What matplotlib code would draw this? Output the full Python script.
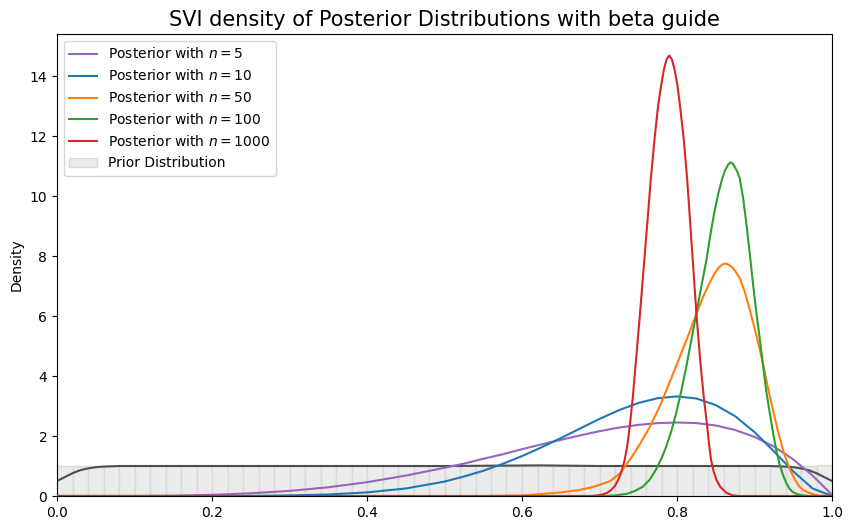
import numpy as np
import matplotlib
matplotlib.use("Agg")
import matplotlib.pyplot as plt

# DATA
labels = ["Posterior with $n=5$", "Posterior with $n=10$", "Posterior with $n=50$",
          "Posterior with $n=100$", "Posterior with $n=1000$"]
colors = ["tab:purple", "tab:blue", "tab:orange", "tab:green", "tab:red"]

x_n5 = [0.0, 0.05, 0.1, 0.15, 0.2, 0.25, 0.3, 0.35, 0.4, 0.45, 0.5, 0.525, 0.55, 0.575,
        0.6, 0.625, 0.65, 0.675, 0.7, 0.725, 0.75, 0.775, 0.8, 0.825, 0.85, 0.875, 0.9,
        0.925, 0.95, 0.975, 1.0]
y_n5 = [0.0, 0.0, 0.0, 0.01, 0.04, 0.09, 0.17, 0.29, 0.46, 0.68, 0.94, 1.08, 1.24, 1.39,
        1.56, 1.72, 1.87, 2.02, 2.16, 2.28, 2.37, 2.43, 2.45, 2.43, 2.35, 2.2, 1.97,
        1.65, 1.22, 0.68, 0.04]

x_n10 = [0.0, 0.2, 0.25, 0.3, 0.35, 0.4, 0.45, 0.5, 0.525, 0.55, 0.575, 0.6, 0.625, 0.65,
         0.675, 0.7, 0.725, 0.75, 0.775, 0.8, 0.825, 0.85, 0.875, 0.9, 0.925, 0.95,
         0.975, 1.0]
y_n10 = [0.0, 0.0, 0.0, 0.02, 0.05, 0.12, 0.25, 0.48, 0.65, 0.84, 1.07, 1.33, 1.62, 1.93,
         2.25, 2.57, 2.86, 3.1, 3.26, 3.32, 3.25, 3.03, 2.66, 2.13, 1.49, 0.82,
         0.25, 0.0]

x_n50 = [0.0, 0.55, 0.6, 0.623, 0.65, 0.674, 0.69, 0.7, 0.714, 0.726, 0.739, 0.752, 0.765,
         0.778, 0.79, 0.803, 0.816, 0.824, 0.833, 0.842, 0.848, 0.854, 0.8585, 0.863,
         0.8675, 0.872, 0.8765, 0.881, 0.8875, 0.894, 0.9005, 0.907, 0.913, 0.919, 0.9255,
         0.932, 0.939, 0.946, 0.952, 0.958, 0.964, 0.971, 0.978, 0.985, 1.0]
y_n50 = [0.0, 0.0, 0.02, 0.06, 0.12, 0.2, 0.29, 0.37, 0.5, 0.75, 1.2, 1.72, 2.31,
         3.0, 3.76, 4.6, 5.45, 6.0, 6.6, 7.1, 7.4, 7.62, 7.72, 7.75,
         7.7, 7.6, 7.45, 7.26, 6.8, 6.2, 5.55, 4.87, 4.15, 3.42, 2.68,
         1.98, 1.35, 0.87, 0.55, 0.31, 0.18, 0.1, 0.04, 0.01, 0.0]

x_n100 = [0.0, 0.70, 0.72, 0.735, 0.745, 0.756, 0.765, 0.773, 0.78, 0.786, 0.7925, 0.799,
          0.8055, 0.812, 0.8185, 0.825, 0.8315, 0.838, 0.843, 0.848, 0.853, 0.858, 0.862,
          0.866, 0.869, 0.872, 0.875, 0.878, 0.881, 0.8855, 0.890, 0.894, 0.898, 0.9025,
          0.907, 0.911, 0.915, 0.9195, 0.924, 0.928, 0.932, 0.9365, 0.941, 0.945, 0.949,
          0.955, 0.96, 0.97, 1.0]
y_n100 = [0.0, 0.0, 0.02, 0.07, 0.16, 0.31, 0.55, 0.89, 1.25, 1.64, 2.15, 2.77,
          3.5, 4.31, 5.2, 6.1, 7.0, 7.87, 8.7, 9.43, 10.05, 10.55, 10.85,
          11.05, 11.12, 11.08, 10.95, 10.8, 10.58, 9.9, 8.98, 8.05, 7.09, 6.1,
          5.2, 4.35, 3.53, 2.8, 2.1, 1.55, 1.1, 0.72, 0.43, 0.25, 0.14,
          0.06, 0.03, 0.0, 0.0]

x_n1000 = [0.0, 0.69, 0.70, 0.705, 0.71, 0.715, 0.72, 0.724, 0.728, 0.7325, 0.736, 0.739,
           0.743, 0.747, 0.752, 0.757, 0.762, 0.766, 0.771, 0.7755, 0.779, 0.783, 0.7865,
           0.79, 0.7935, 0.797, 0.8005, 0.804, 0.8085, 0.813, 0.8165, 0.8205, 0.825, 0.830,
           0.8345, 0.839, 0.8415, 0.844, 0.8475, 0.851, 0.856, 0.864, 0.872, 0.88, 1.0]
y_n1000 = [0.0, 0.0, 0.03, 0.06, 0.11, 0.2, 0.34, 0.53, 0.78, 1.2, 1.7, 2.31,
           3.3, 4.5, 6.0, 7.6, 9.2, 10.5, 11.9, 12.98, 13.6, 14.2, 14.55,
           14.68, 14.55, 14.2, 13.7, 12.98, 11.95, 10.6, 9.3, 7.8, 6.1, 4.5,
           3.3, 2.31, 1.7, 1.2, 0.8, 0.53, 0.3, 0.1, 0.02, 0.0, 0.0]

# prior: 50 bin density histogram + kde line
prior_heights = [1.0] * 50
prior_heights[31] = 1.03
prior_heights[49] = 1.05
x_prior = [0.0, 0.01, 0.02, 0.03, 0.04, 0.05, 0.06, 0.08, 0.1, 0.3, 0.5, 0.62, 0.7, 0.9,
           0.92, 0.94, 0.95, 0.96, 0.97, 0.98, 0.99, 1.0]
y_prior = [0.5, 0.63, 0.76, 0.86, 0.92, 0.96, 0.98, 1.0, 1.0, 1.0, 1.0, 1.02, 1.0, 1.0,
           1.0, 0.98, 0.96, 0.92, 0.86, 0.76, 0.63, 0.5]

posteriors = [(x_n5, y_n5), (x_n10, y_n10), (x_n50, y_n50), (x_n100, y_n100), (x_n1000, y_n1000)]

# PLOT
fig = plt.figure(figsize=(8.53, 5.30), dpi=100)
ax = fig.add_axes([57 / 853, 34 / 530, 775 / 853, 462 / 530])

edges = np.linspace(0, 1, len(prior_heights) + 1)
ax.bar(edges[:-1], prior_heights, width=np.diff(edges), align="edge",
       color="#ebebeb", edgecolor="#d9d9d9", linewidth=1, label="Prior Distribution", zorder=1)
ax.plot(x_prior, y_prior, color="#4d4d4d", linewidth=1.5, zorder=2)

for (xs, ys), lab, c in zip(posteriors, labels, colors):
    ax.plot(xs, ys, color=c, label=lab, linewidth=1.5, zorder=3)

ax.set_xlim(0, 1)
ax.set_ylim(0, 15.4)
ax.set_ylabel("Density")
ax.set_title("SVI density of Posterior Distributions with beta guide", fontsize=15)
ax.legend(loc="upper left")

plt.savefig("out.png", dpi=100)
